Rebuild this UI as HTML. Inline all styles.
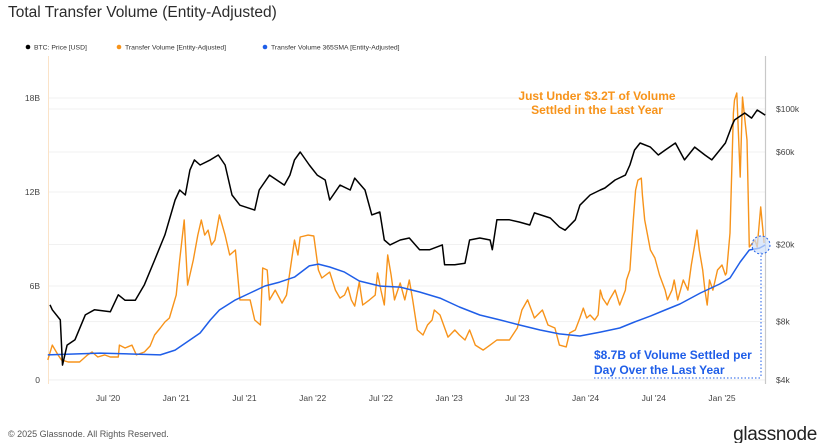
<!DOCTYPE html>
<html><head><meta charset="utf-8"><style>
body{margin:0;background:#fff;width:825px;height:443px;overflow:hidden;font-family:"Liberation Sans",sans-serif}
</style></head><body>
<svg id="chart" width="825" height="443" xmlns="http://www.w3.org/2000/svg" font-family="Liberation Sans, sans-serif">
<text x="8" y="17" font-size="15.5" fill="#2b2b2b">Total Transfer Volume (Entity-Adjusted)</text>
<g font-size="6.8" fill="#333">
<g><circle cx="28" cy="47" r="2.3" fill="#000"/><text x="34" y="49.5">BTC: Price [USD]</text></g>
<g><circle cx="119" cy="47" r="2.3" fill="#f7931a"/><text x="125" y="49.5">Transfer Volume [Entity-Adjusted]</text></g>
<g><circle cx="265" cy="47" r="2.3" fill="#1f5ee8"/><text x="271" y="49.5">Transfer Volume 365SMA [Entity-Adjusted]</text></g>
</g>
<g id="grid"></g>
<line x1="48.5" y1="56" x2="48.5" y2="384" stroke="#fbe3c8" stroke-width="1"/>
<line x1="765.5" y1="56" x2="765.5" y2="384" stroke="#c8c8c8" stroke-width="1.2"/>
<g id="yleft" font-size="8.5" fill="#444"></g>
<g id="yright" font-size="8.5" fill="#444"></g>
<g id="xaxis" font-size="8.5" fill="#444"></g>
<g id="series"></g>
<g>
<line x1="761" y1="252" x2="761" y2="378" stroke="#1f5ee8" stroke-width="1" stroke-dasharray="1.5,2"/>
<line x1="594" y1="378" x2="761" y2="378" stroke="#1f5ee8" stroke-width="1" stroke-dasharray="1.5,2"/>
<circle cx="761" cy="245" r="9" fill="#cfe0fb" fill-opacity="0.7" stroke="#1f5ee8" stroke-width="1" stroke-dasharray="2,2"/>
<text x="594" y="359" font-size="12" font-weight="bold" fill="#1f5ee8">$8.7B of Volume Settled per</text>
<text x="594" y="374" font-size="12" font-weight="bold" fill="#1f5ee8">Day Over the Last Year</text>
</g>
<g font-size="12" font-weight="bold" fill="#f7931a" text-anchor="middle">
<text x="597" y="100">Just Under $3.2T of Volume</text>
<text x="597" y="114">Settled in the Last Year</text>
</g>
<text x="8" y="437" font-size="9" fill="#555">© 2025 Glassnode. All Rights Reserved.</text>
<text x="817" y="440" font-size="19" fill="#222" text-anchor="end" letter-spacing="-0.3">glassnode</text>
</svg>
<script>
const volTicks=[0,6,12,18];
const volTickLabels=["0","6B","12B","18B"];
const priceTicks=[4000,8000,20000,60000,100000];
const priceTickLabels=["$4k","$8k","$20k","$60k","$100k"];
const xTicks=[6,12,18,24,30,36,42,48,54,60];
const xTickLabels=["Jul '20","Jan '21","Jul '21","Jan '22","Jul '22","Jan '23","Jul '23","Jan '24","Jul '24","Jan '25"];
// months since Jan 2020
const priceT=[0.9,1.1,1.8,2.0,2.4,3.1,4.0,4.8,6.2,6.9,7.5,8.4,9.2,10.1,11.0,11.9,12.3,12.8,13.2,13.6,14.1,15.0,15.7,16.3,16.9,17.6,18.9,19.3,20.2,21.5,22.0,22.4,22.9,23.7,24.4,25.1,25.5,26.4,27.3,27.7,28.6,29.2,29.9,30.3,30.8,31.7,32.5,33.4,34.3,35.4,35.6,36.5,37.4,37.8,38.7,39.6,39.8,40.2,41.3,42.2,43.1,43.5,44.9,45.7,46.2,47.1,47.5,48.4,49.3,49.7,50.6,51.5,51.9,52.3,52.8,53.7,54.4,55.0,55.9,56.7,57.6,58.5,59.1,59.8,60.3,60.9,61.1,62.0,62.6,63.1,63.8];
const priceV=[9760,9200,8160,4770,6050,6450,8660,9200,8990,11000,10300,10300,12400,16600,22400,33900,38200,36000,48400,54600,51400,54600,57900,51400,36000,31900,30100,38200,45600,40500,45600,54600,60000,51400,45600,43000,33900,40500,38200,44000,38200,28400,29400,21100,19900,21100,21600,18800,18800,19900,15700,15700,16000,21100,21600,21100,18800,26800,26800,26100,25200,29100,27400,24600,23700,26800,31900,36000,38200,39100,43000,45600,51400,61400,66800,63600,57900,61400,66800,54600,63600,57900,54600,61400,66800,82700,87800,95400,89800,98800,93000];
const volT=[0.7,1.1,1.6,1.9,2.5,3.5,4.2,4.6,5.1,5.7,6.2,6.9,7.0,7.5,8.1,8.5,9.2,9.7,10.1,10.6,11.0,11.4,12.0,12.3,12.7,13.0,13.5,13.9,14.2,14.5,14.8,15.1,15.4,15.8,16.3,16.7,17.2,17.6,18.5,18.9,19.4,19.6,20.0,20.2,20.7,21.3,21.7,22.4,22.7,22.9,23.6,24.1,24.5,24.8,25.5,26.0,26.4,26.8,27.1,27.4,27.7,28.1,28.4,29.0,29.5,29.7,30.0,30.3,30.6,30.9,31.2,31.7,32.1,32.5,32.8,33.2,33.7,34.1,34.5,34.7,35.2,35.9,36.5,36.9,37.4,37.8,38.3,39.0,39.6,40.2,40.7,41.3,42.0,42.4,42.9,43.5,44.2,44.7,45.3,45.7,46.3,46.6,47.1,47.5,47.8,48.1,48.4,48.8,49.1,49.3,49.5,49.9,50.1,50.6,51.0,51.5,51.6,51.9,52.2,52.4,52.6,52.9,53.0,53.2,53.7,54.1,54.5,55.0,55.2,55.6,55.8,56.1,56.6,57.0,57.3,57.6,57.8,58.0,58.3,58.5,58.7,58.9,59.2,59.6,60.0,60.3,60.4,60.7,61.0,61.1,61.3,61.6,61.8,62.2,62.4,62.9,63.1,63.4,63.7];
const volV=[1.28,2.23,1.60,1.28,1.15,1.15,1.60,1.79,1.47,1.60,1.47,1.47,2.23,2.04,2.23,1.60,1.79,2.17,2.87,3.32,3.70,3.96,5.42,7.66,10.21,6.06,7.66,9.25,10.21,9.25,9.57,8.62,8.93,10.53,9.25,7.98,8.30,5.11,5.11,3.83,3.51,7.15,7.02,5.11,5.74,4.91,5.42,8.93,7.98,9.13,9.25,9.19,7.02,6.51,6.89,5.74,5.23,5.42,5.93,5.11,4.72,6.25,4.79,5.11,5.42,6.83,5.74,4.79,7.98,6.70,5.11,6.19,5.11,6.38,5.11,3.19,2.87,3.51,3.83,4.47,4.15,2.74,3.19,2.87,2.55,3.19,2.23,1.91,2.23,2.55,2.55,2.55,3.32,4.47,5.11,3.96,4.47,3.51,3.32,2.23,2.11,3.00,3.19,3.96,4.59,3.96,4.15,3.83,4.15,5.74,5.23,4.79,5.11,5.74,4.79,5.74,6.38,7.02,10.21,12.12,12.76,12.89,11.81,10.21,8.30,7.79,6.70,5.74,5.11,5.74,6.38,5.11,6.38,5.74,7.34,8.62,9.57,8.30,7.02,5.74,4.79,6.38,5.74,7.02,7.34,6.70,6.83,9.38,17.04,17.87,18.32,12.95,18.06,15.32,8.49,8.93,8.49,11.04,8.74];
const smaT=[0.7,5.3,10.6,11.9,13.2,14.1,15.0,15.8,17.2,18.5,19.8,21.1,22.4,23.7,24.5,25.5,26.8,28.1,29.9,31.7,33.4,35.2,36.9,38.7,40.5,42.2,44.0,45.7,47.5,49.3,51.0,52.3,53.7,55.0,56.3,58.1,59.8,60.7,61.6,62.4,63.3,63.8];
const smaV=[1.60,1.72,1.60,1.91,2.55,3.00,3.83,4.47,5.11,5.55,6.00,6.25,6.57,7.28,7.40,7.21,6.89,6.32,6.00,5.93,5.62,5.23,4.66,4.15,3.83,3.51,3.19,2.94,2.81,3.06,3.32,3.70,4.08,4.47,4.85,5.55,6.13,6.51,7.53,8.30,8.42,8.62];

const NS="http://www.w3.org/2000/svg";
function xS(t){return 39.8+t*11.37;}
function yVol(v){return 380-v*15.667;}
function yPrice(p){return 109+(5-Math.log10(p))*193.8;}
function mk(tag,attrs,parent){const e=document.createElementNS(NS,tag);for(const k in attrs)e.setAttribute(k,attrs[k]);parent.appendChild(e);return e;}
const grid=document.getElementById('grid');
volTicks.forEach(v=>{const l=mk('line',{x1:49,x2:765,y1:yVol(v),y2:yVol(v),stroke:'#f1f1f1','stroke-width':1},grid);

});
priceTicks.forEach(p=>{const l=mk('line',{x1:49,x2:765,y1:yPrice(p),y2:yPrice(p),stroke:'#f1f1f1','stroke-width':1},grid);

});
const yl=document.getElementById('yleft');
volTicks.forEach((v,i)=>{const t=mk('text',{x:40,y:yVol(v)+3,'text-anchor':'end'},yl);t.textContent=volTickLabels[i];

});
const yr=document.getElementById('yright');
priceTicks.forEach((p,i)=>{const t=mk('text',{x:776,y:yPrice(p)+3},yr);t.textContent=priceTickLabels[i];

});
const xa=document.getElementById('xaxis');
xTicks.forEach((m,i)=>{const t=mk('text',{x:xS(m),y:401,'text-anchor':'middle'},xa);t.textContent=xTickLabels[i];

});
function path(ts,vs,yf){return ts.map((t,i)=>(i?'L':'M')+xS(t).toFixed(1)+','+yf(vs[i]).toFixed(1)).join(' ');}
const s=document.getElementById('series');
const pv=mk('path',{d:path(volT,volV,yVol),fill:'none',stroke:'#f7931a','stroke-width':1.4,'stroke-linejoin':'round'},s);


const ps=mk('path',{d:path(smaT,smaV,yVol),fill:'none',stroke:'#1f5ee8','stroke-width':1.5,'stroke-linejoin':'round'},s);


const pp=mk('path',{d:path(priceT,priceV,yPrice),fill:'none',stroke:'#000','stroke-width':1.5,'stroke-linejoin':'round'},s);


</script>
</body></html>
